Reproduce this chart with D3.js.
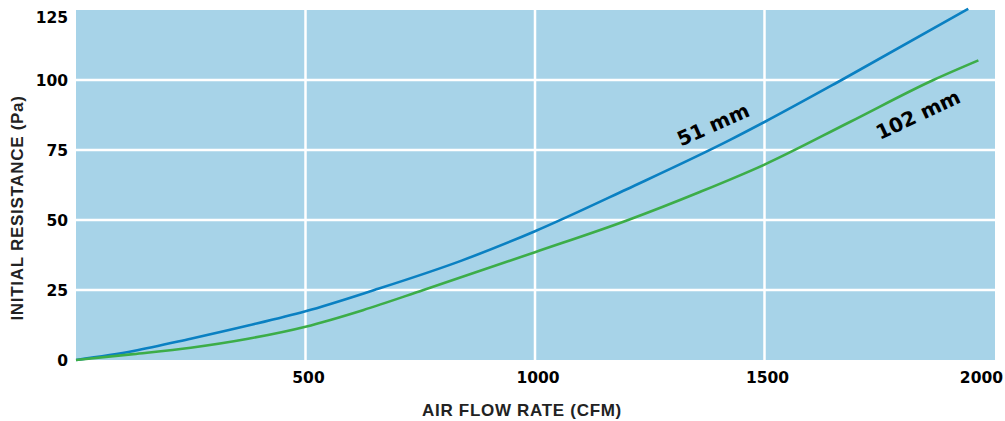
<!DOCTYPE html>
<html>
<head>
<meta charset="utf-8">
<script src="https://cdnjs.cloudflare.com/ajax/libs/d3/7.8.5/d3.min.js"></script>
<style>
    body { margin: 0; background: #fff; }
    svg { display: block; }
    .tick-label { font-family: "DejaVu Sans", sans-serif; font-weight: bold; font-size: 15.5px; fill: #000; }
    .axis-title { font-family: "Liberation Sans", Arial, sans-serif; font-weight: bold; font-size: 17px; letter-spacing: 0.7px; fill: #222; }
    .series-label { font-family: "DejaVu Sans", sans-serif; font-weight: bold; font-size: 20px; fill: #000; }
</style>
</head>
<body>
<svg id="chart" width="1005" height="421"></svg>
<script>
"use strict";

// values
const xTicks = [500, 1000, 1500, 2000];
const yTicks = [0, 25, 50, 75, 100, 125];

const flow51 = [0, 125, 250, 375, 500, 650, 840, 1000, 1200, 1425, 1500, 1668, 1944];
const res51 = [0, 3.2, 7.6, 12.3, 17.4, 25, 35.5, 46, 61, 78.6, 85, 100, 125.4];

const flow102 = [0, 125, 250, 375, 500, 625, 757, 1000, 1203, 1359, 1500, 1686, 1868, 1966];
const res102 = [0, 2.1, 4.4, 7.6, 11.9, 17.8, 25, 38.5, 50, 60, 69.8, 85, 100, 107];

const seriesNames = ["51 mm", "102 mm"];
const seriesColors = ["#0a80c2", "#3cad48"];

const svg = d3.select("#chart");
const plot = { left: 76, right: 994, top: 10, bottom: 360 };

const x = d3.scaleLinear().domain([0, 2000]).range([plot.left, plot.right]);
const y = d3.scaleLinear().domain([0, 125]).range([plot.bottom, plot.top]);

// background
svg.append("rect")
    .attr("x", plot.left)
    .attr("y", plot.top)
    .attr("width", plot.right - plot.left + 1)
    .attr("height", plot.bottom - plot.top)
    .style("fill", "#a7d3e8");

// grid
svg.selectAll(".vgrid").data([500, 1000, 1500]).enter()
    .append("line")
    .attr("class", "vgrid")
    .attr("x1", d => x(d)).attr("x2", d => x(d))
    .attr("y1", plot.top).attr("y2", plot.bottom)
    .style("stroke", "#fff").style("stroke-width", 2.5);
svg.selectAll(".hgrid").data([25, 50, 75, 100]).enter()
    .append("line")
    .attr("class", "hgrid")
    .attr("x1", plot.left).attr("x2", plot.right + 1)
    .attr("y1", d => y(d)).attr("y2", d => y(d))
    .style("stroke", "#fff").style("stroke-width", 2.5);

// y tick labels
svg.selectAll(".ylab").data(yTicks).enter()
    .append("text")
    .attr("class", "tick-label ylab")
    .attr("text-anchor", "end")
    .attr("x", 68)
    .attr("y", d => d === 125 ? y(d) + 13 : y(d) + 6)
    .text(d => d);

// x tick labels
svg.selectAll(".xlab").data(xTicks).enter()
    .append("text")
    .attr("class", "tick-label xlab")
    .attr("text-anchor", d => d === 2000 ? "end" : "middle")
    .attr("x", d => d === 2000 ? 1003 : x(d) + 3)
    .attr("y", 383)
    .text(d => d);

// axis titles
svg.append("text")
    .attr("class", "axis-title")
    .attr("text-anchor", "middle")
    .attr("x", 522)
    .attr("y", 416)
    .text("AIR FLOW RATE (CFM)");
svg.append("text")
    .attr("class", "axis-title")
    .attr("text-anchor", "middle")
    .attr("transform", "translate(23,208) rotate(-90)")
    .text("INITIAL RESISTANCE (Pa)");

// curves
const line = d3.line()
    .x(d => x(d[0]))
    .y(d => y(d[1]))
    .curve(d3.curveMonotoneX);

const series = [
    d3.zip(flow51, res51),
    d3.zip(flow102, res102)
];

svg.selectAll(".curve").data(series).enter()
    .append("path")
    .attr("class", "curve")
    .attr("d", d => line(d))
    .style("fill", "none")
    .style("stroke", (d, i) => seriesColors[i])
    .style("stroke-width", 2.6);

// series labels
const labelPos = [[716, 131, -24], [921, 121, -25]];
svg.selectAll(".series-label").data(seriesNames).enter()
    .append("text")
    .attr("class", "series-label")
    .attr("text-anchor", "middle")
    .attr("transform", (d, i) => "translate(" + labelPos[i][0] + "," + labelPos[i][1] + ") rotate(" + labelPos[i][2] + ")")
    .text(d => d);
</script>
</body>
</html>
